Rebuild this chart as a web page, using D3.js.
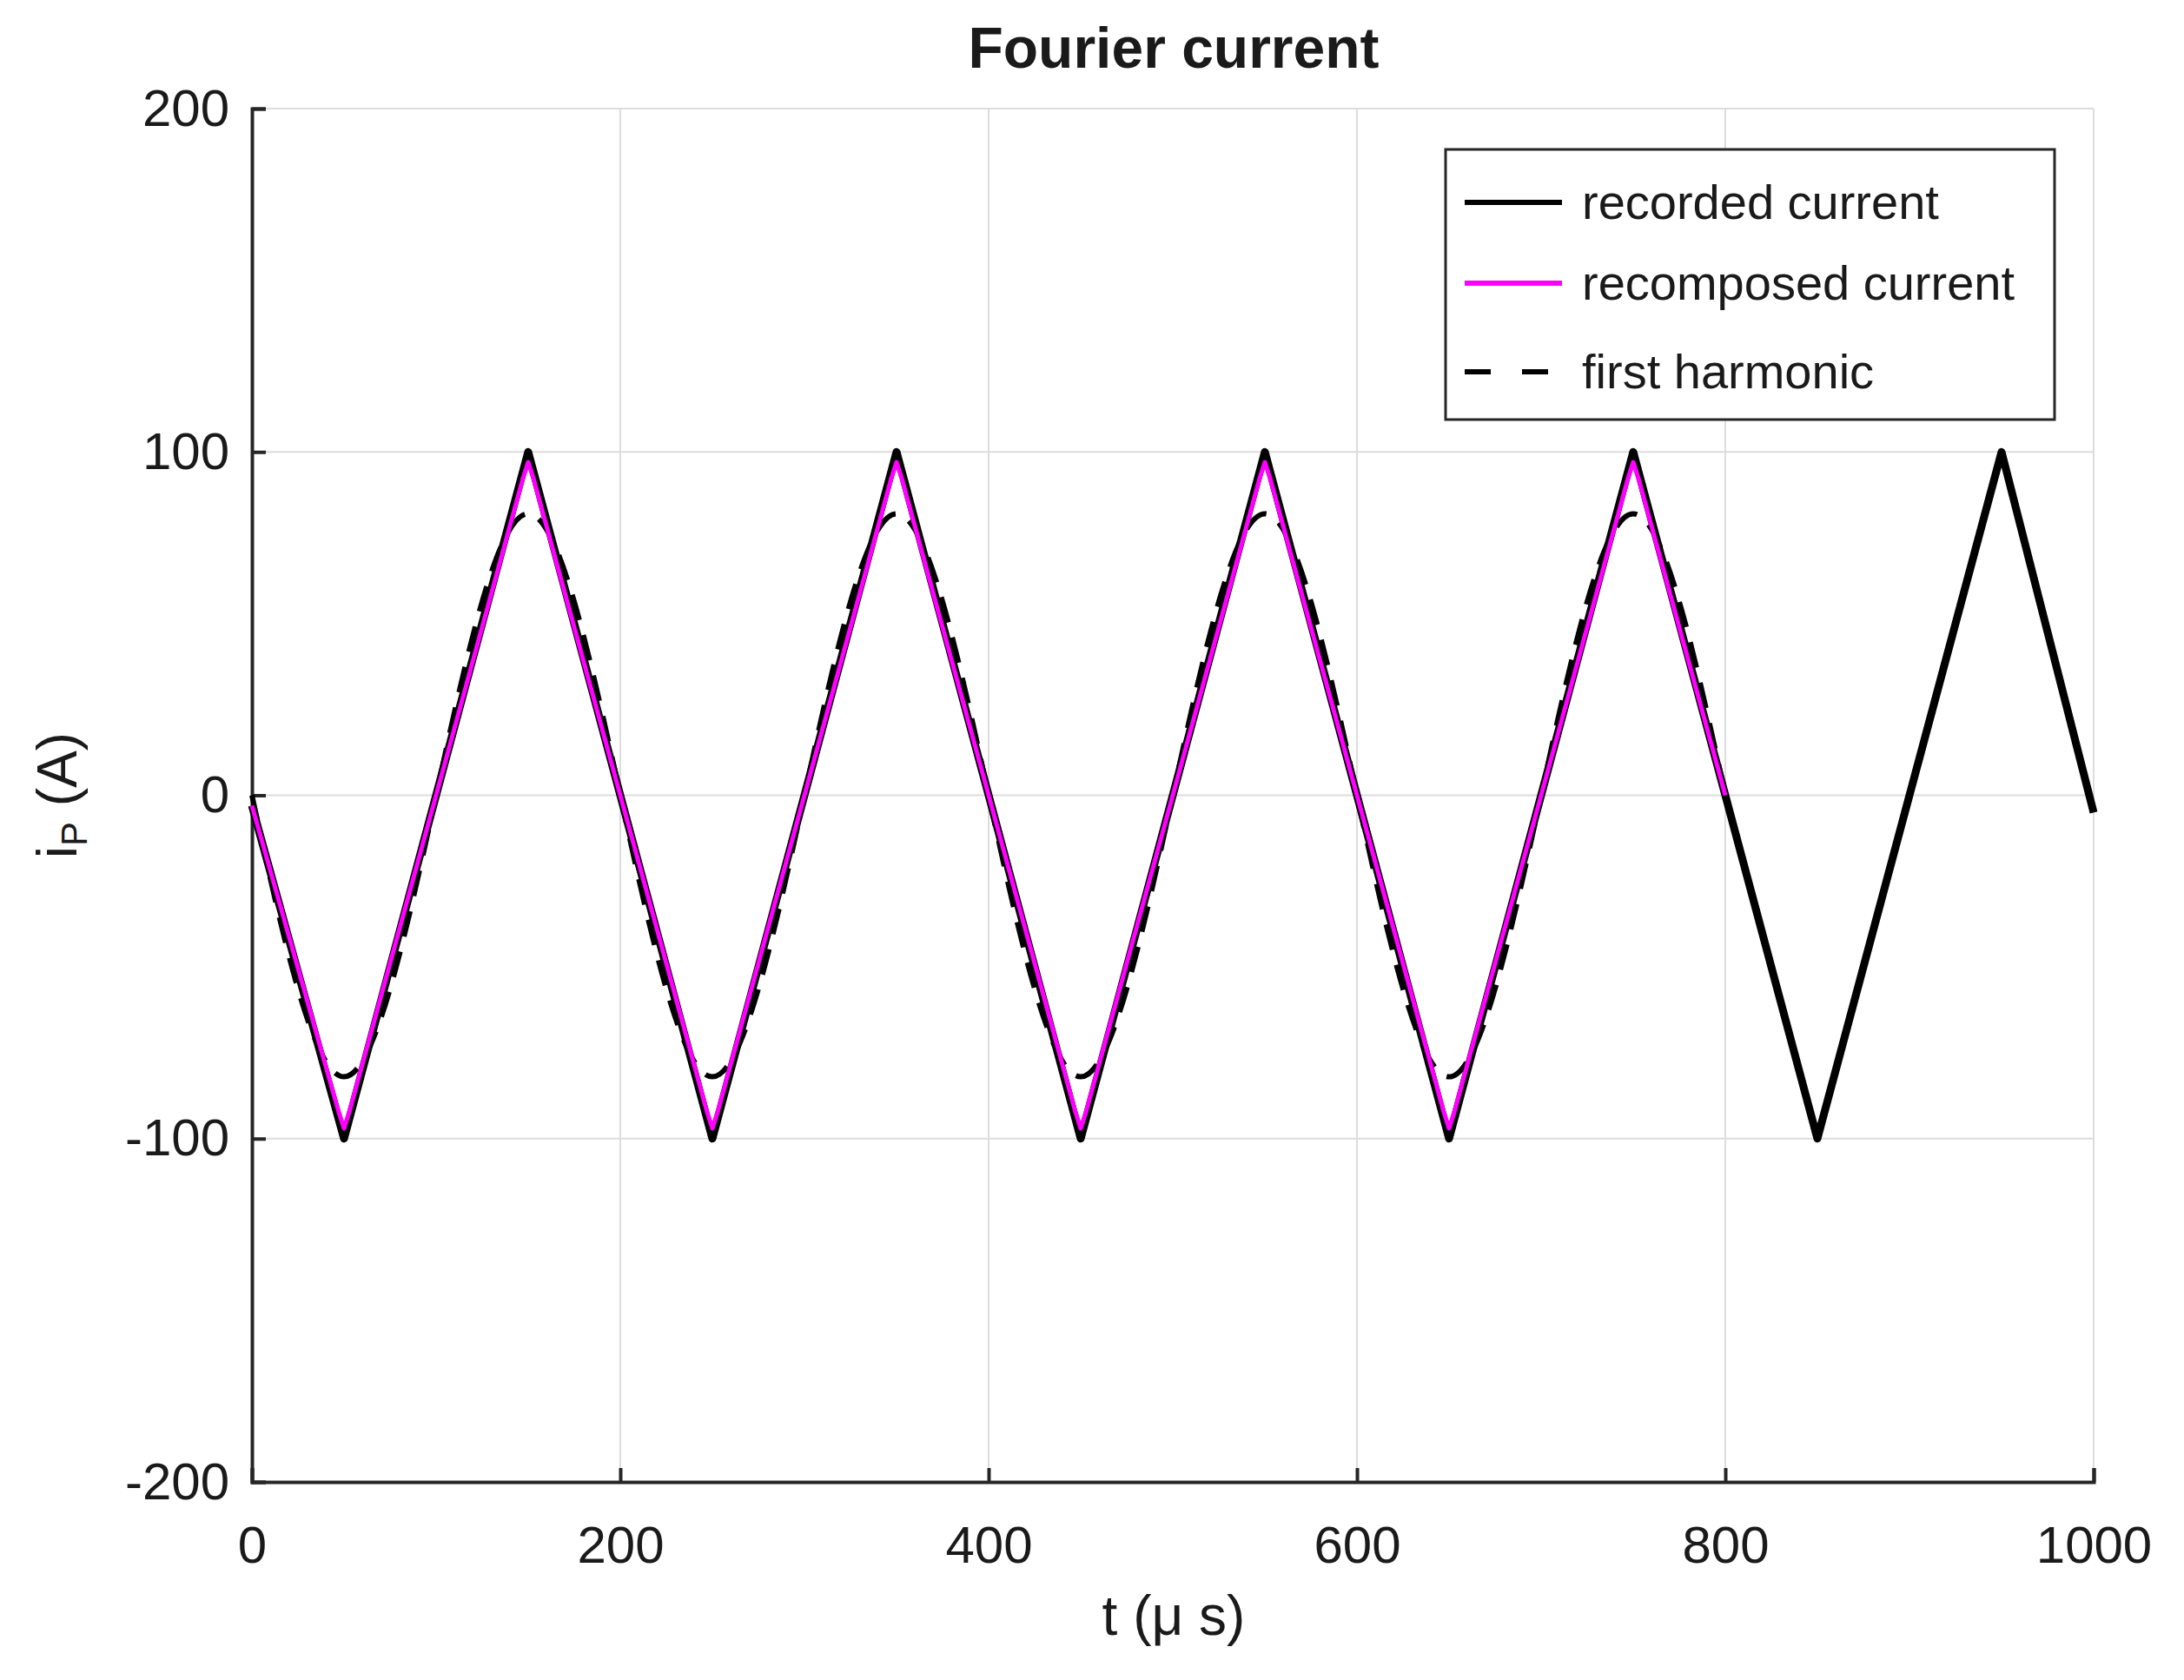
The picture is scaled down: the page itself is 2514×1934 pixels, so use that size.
<!DOCTYPE html>
<html>
<head>
<meta charset="utf-8">
<script src="https://cdn.jsdelivr.net/npm/d3@7"></script>
<style>
  body { margin: 0; background: #fff; }
  text { font-family: "Liberation Sans", Arial, sans-serif; fill: #1a1a1a; }
</style>
</head>
<body>
<svg id="chart" width="2514" height="1934"></svg>
<script>
// data
let recordedT = [0, 50, 150, 250, 350, 450, 550, 650, 750, 850, 950, 1000];
let recordedI = [-3, -100, 100, -100, 100, -100, 100, -100, 100, -100, 100, -5];
let recomposedT = [0, 47, 50, 53, 147, 150, 153, 247, 250, 253, 347, 350, 353, 447, 450, 453, 547, 550, 553, 647, 650, 653, 747, 750, 753, 800];
let recomposedI = [-3, -92, -97, -92, 92, 97, 92, -92, -97, -92, 92, 97, 92, -92, -97, -92, 92, 97, 92, -92, -97, -92, 92, 97, 92, 0];
let harmonicT = [0, 50, 100, 150, 200, 250, 300, 350, 400, 450, 500, 550, 600, 650, 700, 750, 800];
let harmonicI = [0, -82, 0, 82, 0, -82, 0, 82, 0, -82, 0, 82, 0, -82, 0, 82, 0];
let xTicks = [0, 200, 400, 600, 800, 1000];
let yTicks = [-200, -100, 0, 100, 200];
let legendNames = ['recorded current', 'recomposed current', 'first harmonic'];

let svg = d3.select('#chart');
let m = {left: 290, right: 2410, top: 125, bottom: 1706};

let x = d3.scaleLinear().domain([0, 1000]).range([m.left, m.right]);
let y = d3.scaleLinear().domain([-200, 200]).range([m.bottom, m.top]);

// grid
svg.append('g').selectAll('line').data(xTicks).enter().append('line')
    .attr('x1', d => x(d)).attr('x2', d => x(d))
    .attr('y1', m.top).attr('y2', m.bottom)
    .attr('stroke', '#dcdcdc').attr('stroke-width', 2);
svg.append('g').selectAll('line').data(yTicks).enter().append('line')
    .attr('y1', d => y(d)).attr('y2', d => y(d))
    .attr('x1', m.left).attr('x2', m.right)
    .attr('stroke', '#dcdcdc').attr('stroke-width', 2);

// axes, ticks inward
let fmt = d => String(d);
let xAxis = svg.append('g').attr('transform', `translate(0,${m.bottom})`)
    .call(d3.axisBottom(x).tickValues(xTicks).tickFormat(fmt).tickSize(-16).tickPadding(50));
let yAxis = svg.append('g').attr('transform', `translate(${m.left},0)`)
    .call(d3.axisLeft(y).tickValues(yTicks).tickFormat(fmt).tickSize(-16).tickPadding(26));
[xAxis, yAxis].forEach(a => {
    a.select('.domain').attr('stroke', '#262626').attr('stroke-width', 4);
    a.selectAll('.tick line').attr('stroke', '#262626').attr('stroke-width', 4);
    a.selectAll('.tick text').attr('font-size', 60).attr('fill', '#1a1a1a')
        .style('font-family', '"Liberation Sans", Arial, sans-serif');
});

let line = (ts, vs, curve) => d3.line().curve(curve)
    .x((d, i) => x(ts[i])).y(d => y(d))(vs);

svg.append('path').attr('d', line(recordedT, recordedI, d3.curveLinear))
    .attr('fill', 'none').attr('stroke', '#000').attr('stroke-width', 9)
    .attr('stroke-linejoin', 'round');
svg.append('path').attr('d', line(harmonicT, harmonicI, d3.curveNatural))
    .attr('fill', 'none').attr('stroke', '#000').attr('stroke-width', 6)
    .attr('stroke-dasharray', '30,18');
svg.append('path').attr('d', line(recomposedT, recomposedI, d3.curveLinear))
    .attr('fill', 'none').attr('stroke', '#ff00ff').attr('stroke-width', 5)
    .attr('stroke-linejoin', 'round');

// title and labels
svg.append('text').attr('x', 1351).attr('y', 78).attr('text-anchor', 'middle')
    .attr('font-size', 66).attr('font-weight', 'bold').attr('fill', '#000').text('Fourier current');
svg.append('text').attr('x', 1351).attr('y', 1882).attr('text-anchor', 'middle')
    .attr('font-size', 64).text('t (μ s)');
let yl = svg.append('text').attr('transform', `translate(88,${y(0)}) rotate(-90)`)
    .attr('text-anchor', 'middle').attr('font-size', 64);
yl.append('tspan').text('i');
yl.append('tspan').attr('font-size', 42).attr('dy', 12).text('P');
yl.append('tspan').attr('dy', -12).text(' (A)');

// legend
let lg = svg.append('g');
lg.append('rect').attr('x', 1664).attr('y', 172).attr('width', 701).attr('height', 311)
    .attr('fill', '#fff').attr('stroke', '#262626').attr('stroke-width', 3);
let legendStyles = [
    {stroke: '#000', dash: null},
    {stroke: '#ff00ff', dash: null},
    {stroke: '#000', dash: '30,36'}
];
lg.selectAll('g.item').data(legendNames).enter().append('g')
    .attr('class', 'item')
    .attr('transform', (d, i) => `translate(1686,${[233, 326, 428][i]})`)
    .each(function(d, i) {
        let g = d3.select(this);
        g.append('line').attr('x1', 0).attr('x2', 112)
            .attr('stroke', legendStyles[i].stroke).attr('stroke-width', 6)
            .attr('stroke-dasharray', legendStyles[i].dash);
        g.append('text').attr('x', 135).attr('y', 19).attr('font-size', 56)
            .attr('fill', '#000').text(d);
    });
</script>
</body>
</html>
